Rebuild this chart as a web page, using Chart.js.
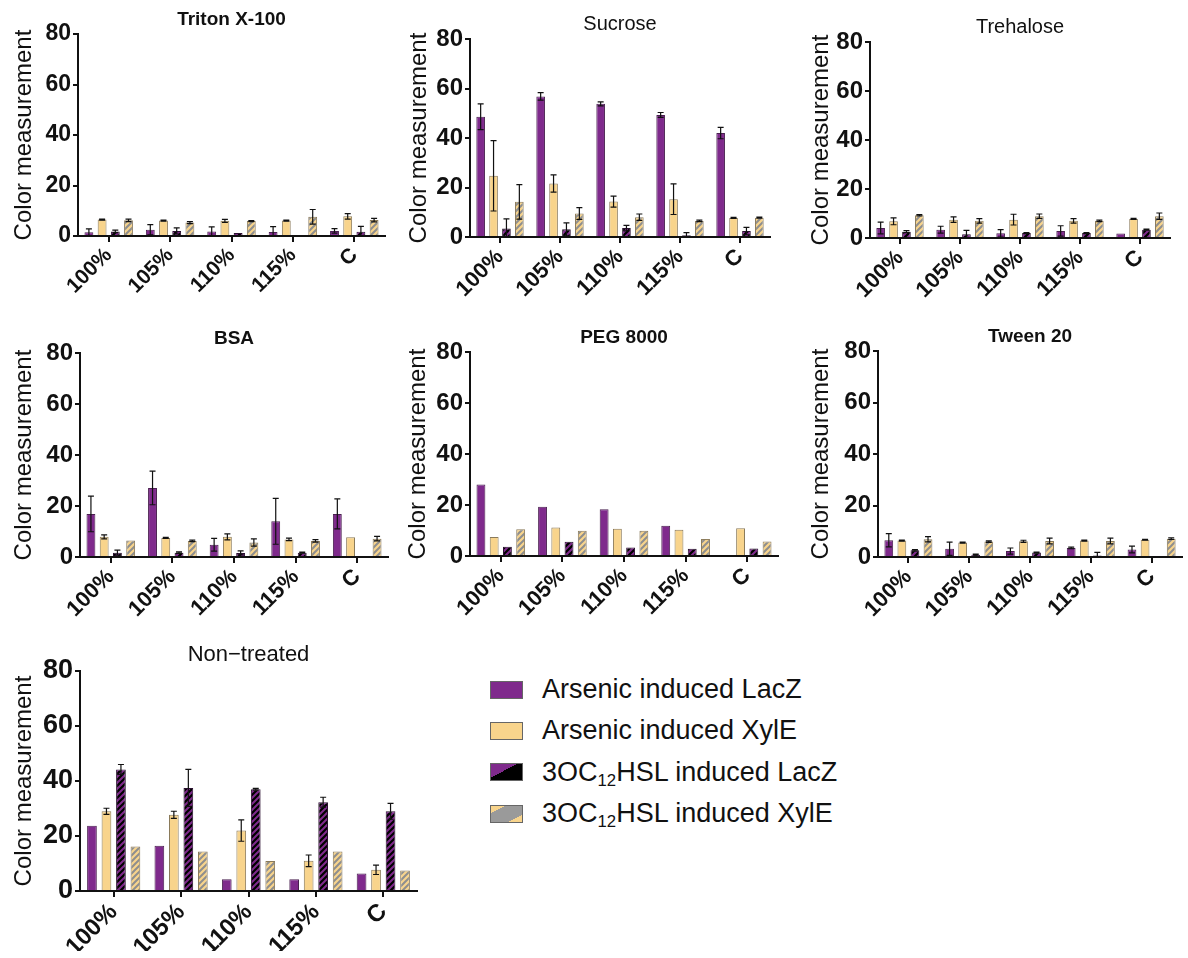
<!DOCTYPE html>
<html>
<head>
<meta charset="utf-8">
<script src="https://cdn.jsdelivr.net/npm/chart.js@4.4.1/dist/chart.umd.min.js"></script>
<style>
  html, body { margin: 0; padding: 0; background: #fff; }
  body { width: 1188px; height: 958px; position: relative; overflow: hidden; font-family: "Liberation Sans", Arial, sans-serif; }
  canvas { position: absolute; }
  #legend { position: absolute; left: 490px; top: 669px; }
  .row { display: flex; align-items: center; height: 41.3px; }
  .sw { width: 33px; height: 18px; box-sizing: border-box; border: 1px solid #666; margin-right: 19px; }
  .lbl { font-size: 27px; color: #111; white-space: nowrap; }
  .lbl sub { font-size: 0.62em; vertical-align: -0.32em; line-height: 0; }
</style>
</head>
<body>
<canvas id="c1"></canvas>
<canvas id="c2"></canvas>
<canvas id="c3"></canvas>
<canvas id="c4"></canvas>
<canvas id="c5"></canvas>
<canvas id="c6"></canvas>
<canvas id="c7"></canvas>

<div id="legend">
  <div class="row"><div class="sw" style="background:#7f2a8c"></div><div class="lbl">Arsenic induced LacZ</div></div>
  <div class="row"><div class="sw" style="background:#f8d48c"></div><div class="lbl">Arsenic induced XylE</div></div>
  <div class="row"><div class="sw" style="background:linear-gradient(to bottom right,#7f2a8c 0 42%,#000 42%)"></div><div class="lbl">3OC<sub>12</sub>HSL induced LacZ</div></div>
  <div class="row"><div class="sw" style="background:linear-gradient(to bottom right,#f8d48c 0 22%,#9a9a9a 22% 78%,#f8d48c 78%)"></div><div class="lbl">3OC<sub>12</sub>HSL induced XylE</div></div>
</div>

<script>
const categories = ['100%', '105%', '110%', '115%', 'C'];
const seriesNames = ['Arsenic induced LacZ', 'Arsenic induced XylE', '3OC12HSL induced LacZ', '3OC12HSL induced XylE'];
const yTicks = [0, 20, 40, 60, 80];

// rows follow seriesNames order
const tritonMean = [
  [1.5, 2.5, 1.8, 1.6, 2.0],
  [6.5, 6.1, 6.0, 6.1, 7.8],
  [1.8, 2.0, 1.2, 0.4, 1.7],
  [6.2, 5.3, 5.9, 7.6, 6.3]
];
const tritonErr = [
  [1.3, 2.0, 1.8, 2.1, 0.9],
  [0.2, 0.2, 0.6, 0.2, 1.1],
  [0.5, 1.2, 0, 0, 2.1],
  [0.5, 0.4, 0.2, 2.9, 0.7]
];

const sucroseMean = [
  [48.6, 56.8, 53.8, 49.3, 42.0],
  [24.7, 21.6, 14.3, 15.3, 7.7],
  [3.4, 3.1, 3.6, 0.7, 2.4],
  [14.2, 9.5, 8.0, 6.5, 7.8]
];
const sucroseErr = [
  [5.2, 1.5, 0.8, 1.0, 2.3],
  [14.2, 3.5, 2.2, 6.2, 0.2],
  [3.9, 2.6, 1.1, 1.1, 1.5],
  [7.0, 2.4, 1.3, 0.3, 0.2]
];

const trehaloseMean = [
  [4.1, 3.4, 1.9, 2.9, 1.8],
  [6.8, 7.5, 7.5, 7.0, 7.8],
  [2.6, 1.5, 2.0, 2.0, 3.4],
  [9.3, 7.0, 8.9, 7.0, 8.9]
];
const trehaloseErr = [
  [2.4, 1.4, 1.5, 2.1, 0],
  [1.4, 1.1, 2.2, 0.9, 0.2],
  [0.4, 1.6, 0.2, 0.2, 0.2],
  [0.3, 0.9, 0.9, 0.3, 1.3]
];

const bsaMean = [
  [16.9, 27.1, 4.8, 14.0, 16.9],
  [7.9, 7.5, 7.9, 6.9, 7.7],
  [1.7, 1.7, 1.6, 1.7, 0],
  [6.5, 6.3, 5.7, 6.3, 7.2]
];
const bsaErr = [
  [7.0, 6.6, 2.5, 9.0, 5.9],
  [0.8, 0.2, 1.2, 0.5, 0],
  [1.0, 0.3, 0.8, 0.2, 0],
  [0, 0.3, 1.4, 0.5, 0.9]
];

const pegMean = [
  [28.0, 19.3, 18.3, 11.9, 0],
  [7.5, 11.2, 10.7, 10.3, 10.9],
  [3.6, 5.6, 3.3, 2.8, 2.9],
  [10.5, 9.9, 9.9, 6.7, 5.7]
];
const pegErr = [
  [0, 0, 0, 0, 0],
  [0, 0, 0, 0, 0],
  [0, 0, 0, 0, 0],
  [0, 0, 0, 0, 0]
];

const tweenMean = [
  [6.5, 3.2, 2.3, 3.5, 2.9],
  [6.4, 5.6, 6.1, 6.4, 6.7],
  [2.6, 0.9, 1.7, 0.6, 0.3],
  [6.9, 6.0, 6.2, 6.2, 7.1]
];
const tweenErr = [
  [2.6, 2.6, 1.2, 0.3, 1.3],
  [0.2, 0.2, 0.4, 0.2, 0.2],
  [0.3, 0.2, 0.2, 1.2, 0],
  [1.0, 0.3, 1.1, 1.1, 0.3]
];

const nonTreatedMean = [
  [23.7, 16.5, 4.3, 4.3, 6.4],
  [29.0, 27.7, 22.0, 11.0, 7.7],
  [44.2, 37.5, 37.0, 32.3, 29.0],
  [16.2, 14.4, 10.9, 14.4, 7.5]
];
const nonTreatedErr = [
  [0, 0, 0, 0, 0],
  [1.1, 1.3, 3.9, 2.1, 1.7],
  [1.8, 6.7, 0.3, 1.8, 2.9],
  [0, 0, 0, 0, 0]
];

const PURPLE = '#7f2a8c';
const YELLOW = '#f8d48c';
const FONT = '"Liberation Sans", Arial, sans-serif';

function hatch(bg, fg, lw) {
  const s = 6;
  const c = document.createElement('canvas');
  c.width = c.height = s;
  const g = c.getContext('2d');
  g.fillStyle = bg;
  g.fillRect(0, 0, s, s);
  g.strokeStyle = fg;
  g.lineWidth = lw;
  g.beginPath();
  g.moveTo(-1, s + 1); g.lineTo(s + 1, -1);
  g.moveTo(-s / 2 - 1, s / 2 + 1); g.lineTo(s / 2 + 1, -s / 2 - 1);
  g.moveTo(s / 2 - 1, s * 1.5 + 1); g.lineTo(s * 1.5 + 1, s / 2 - 1);
  g.stroke();
  return g.createPattern(c, 'repeat');
}

const fills = [PURPLE, YELLOW, hatch(PURPLE, '#000', 2.2), hatch(YELLOW, '#8e8e8e', 2)];
const edges = ['#4a2050', '#8a7a5a', '#2a1030', '#8a7a5a'];

const errorBars = {
  id: 'errorBars',
  afterDatasetsDraw(chart) {
    const ctx = chart.ctx;
    const y = chart.scales.y;
    chart.data.datasets.forEach((ds, i) => {
      chart.getDatasetMeta(i).data.forEach((bar, j) => {
        const e = ds.errors[j];
        if (!e) return;
        const v = ds.data[j];
        const top = y.getPixelForValue(v + e);
        const bot = y.getPixelForValue(Math.max(v - e, 0));
        ctx.save();
        ctx.strokeStyle = '#111';
        ctx.lineWidth = 1.2;
        ctx.beginPath();
        ctx.moveTo(bar.x, top); ctx.lineTo(bar.x, bot);
        ctx.moveTo(bar.x - 3, top); ctx.lineTo(bar.x + 3, top);
        ctx.moveTo(bar.x - 3, bot); ctx.lineTo(bar.x + 3, bot);
        ctx.stroke();
        ctx.restore();
      });
    });
  }
};

// id, title, bold title, means, errors, box [left, top, width, height], y-title pad, sizes
const panels = [
  ['c1', 'Triton X-100', true, tritonMean, tritonErr, [0, 0, 389, 296], 10, 19, 23, 21],
  ['c2', 'Sucrose', false, sucroseMean, sucroseErr, [392, 5, 382, 292], 13, 20, 24, 22],
  ['c3', 'Trehalose', false, trehaloseMean, trehaloseErr, [792, 8, 382, 290], 15, 20, 24, 22],
  ['c4', 'BSA', true, bsaMean, bsaErr, [2, 319, 390, 298], 8, 19, 24, 22],
  ['c5', 'PEG 8000', true, pegMean, pegErr, [392, 318, 390, 298], 12, 19, 24, 22],
  ['c6', 'Tween 20', true, tweenMean, tweenErr, [800, 317, 386, 300], 7, 19, 24, 22],
  ['c7', 'Non\u2212treated', false, nonTreatedMean, nonTreatedErr, [2, 637, 419, 314], 8, 22, 27, 24]
];

panels.forEach(([id, title, bold, mean, err, box, yPad, titleSize, yTickSize, xTickSize]) => {
  const cv = document.getElementById(id);
  cv.width = box[2];
  cv.height = box[3];
  cv.style.left = box[0] + 'px';
  cv.style.top = box[1] + 'px';
  const titleLine = titleSize * 1.2;
  new Chart(cv, {
    type: 'bar',
    data: {
      labels: categories,
      datasets: mean.map((m, k) => ({
        label: seriesNames[k],
        data: m,
        errors: err[k],
        backgroundColor: fills[k],
        borderColor: edges[k],
        borderWidth: 1,
        categoryPercentage: 0.86,
        barPercentage: 0.67
      }))
    },
    options: {
      responsive: false,
      animation: false,
      layout: { padding: { top: 34 - titleLine - 3, right: 4, left: 0, bottom: 0 } },
      plugins: {
        legend: { display: false },
        tooltip: { enabled: false },
        title: {
          display: true,
          text: title,
          fullSize: false,
          color: '#111',
          font: { family: FONT, size: titleSize, weight: bold ? 'bold' : 'normal' },
          padding: { top: 0, bottom: 3 }
        }
      },
      scales: {
        x: {
          offset: true,
          grid: { offset: false, drawOnChartArea: false, tickLength: 6, color: '#111', lineWidth: 2 },
          border: { color: '#111', width: 2 },
          ticks: {
            autoSkip: false, minRotation: 45, maxRotation: 45, padding: 1, color: '#111',
            font: { family: FONT, size: xTickSize, weight: 'bold' }
          },
          afterFit: s => { s.height = 60; }
        },
        y: {
          min: yTicks[0],
          max: yTicks[yTicks.length - 1],
          afterBuildTicks: s => { s.ticks = yTicks.map(v => ({ value: v })); },
          grid: { drawOnChartArea: false, tickLength: 5, color: '#111', lineWidth: 2 },
          border: { color: '#111', width: 2 },
          ticks: { padding: 2, color: '#111', font: { family: FONT, size: yTickSize, weight: 'bold' } },
          title: {
            display: true,
            text: 'Color measurement',
            color: '#111',
            font: { family: FONT, size: 24 },
            padding: { top: yPad, bottom: 0 }
          },
          afterFit: s => { s.width = 78; }
        }
      }
    },
    plugins: [errorBars]
  });
});
</script>
</body>
</html>
